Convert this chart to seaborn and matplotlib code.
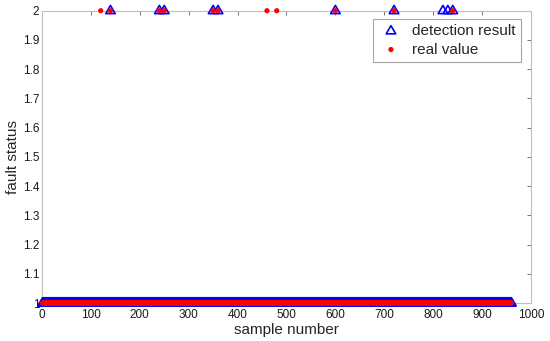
import numpy as np
import pandas as pd
import matplotlib
matplotlib.use("Agg")
import matplotlib.pyplot as plt
from matplotlib.path import Path
import seaborn as sns

# ---- data ----
n_samples = 960
detected_fault_samples = [140, 240, 250, 350, 360, 600, 720, 820, 830, 840]
real_fault_samples = [120, 140, 240, 250, 350, 360, 460, 480, 600, 720, 840]
x_ticks = [0, 100, 200, 300, 400, 500, 600, 700, 800, 900, 1000]
y_ticks = [1, 1.1, 1.2, 1.3, 1.4, 1.5, 1.6, 1.7, 1.8, 1.9, 2]
y_tick_labels = ["1", "1.1", "1.2", "1.3", "1.4", "1.5", "1.6", "1.7", "1.8", "1.9", "2"]

sample = np.arange(1, n_samples + 1)
detected = np.ones(n_samples)
detected[np.array(detected_fault_samples) - 1] = 2
real = np.ones(n_samples)
real[np.array(real_fault_samples) - 1] = 2
df = pd.DataFrame({"sample": sample, "detection result": detected, "real value": real})

# MATLAB-style triangle: data point near the centroid
tri = Path([(0, 1), (-0.9, -0.55), (0.9, -0.55), (0, 1)],
           [Path.MOVETO, Path.LINETO, Path.LINETO, Path.CLOSEPOLY])

sns.set_style("white")
plt.rcParams["font.family"] = ["Liberation Sans", "DejaVu Sans"]

fig = plt.figure(figsize=(5.5, 3.41), dpi=100)
ax = fig.add_axes([0.0764, 0.1114, 0.889, 0.8572])

sns.scatterplot(data=df, x="sample", y="detection result", ax=ax, marker=tri,
                s=58, facecolor="none", edgecolor="#0000ff", linewidth=1.2,
                label="detection result", clip_on=False, zorder=3)
sns.scatterplot(data=df, x="sample", y="real value", ax=ax, marker="o",
                s=14, color="#ff0000", edgecolor="none", linewidth=0,
                label="real value", clip_on=False, zorder=4)

ax.set_xlim(0, 1000)
ax.set_ylim(1, 2)
ax.set_xticks(x_ticks)
ax.set_yticks(y_ticks)
ax.set_yticklabels(y_tick_labels)
ax.tick_params(axis="both", direction="in", length=3, width=0.6, color="#606060",
               labelsize=8.5, labelcolor="#1a1a1a", top=True, right=True, pad=2)
ax.tick_params(axis="x", pad=4)
for sp in ax.spines.values():
    sp.set_visible(True)
    sp.set_color("#c0c0c0")
    sp.set_linewidth(0.8)

ax.set_xlabel("sample number", fontsize=11, labelpad=2)
ax.set_ylabel("fault status", fontsize=11, labelpad=2)

leg = ax.legend(loc="upper right", bbox_to_anchor=(0.98, 0.973), borderaxespad=0,
                fontsize=11, frameon=True, fancybox=False, edgecolor="#909090",
                handletextpad=0.6, borderpad=0.35, labelspacing=0.3, handlelength=1.6)
leg.get_frame().set_linewidth(0.8)

fig.savefig("out.png", dpi=100)
